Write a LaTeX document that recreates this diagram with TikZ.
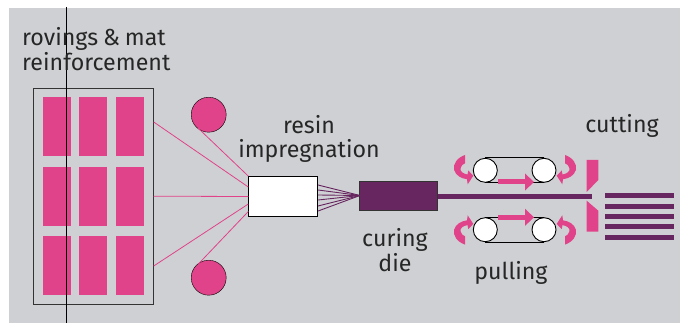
\documentclass[tikz,border=0pt]{standalone}
\usepackage{fontspec}
\setmainfont[WordSpace=0.8]{Fira Sans}
\usetikzlibrary{arrows.meta, positioning}
\definecolor{bgrey}{HTML}{CFD0D3}
\definecolor{rose}{HTML}{E0438A}
\definecolor{plum}{HTML}{67265F}
\tikzset{
	label/.style={font=\fontsize{23.2}{24.5}\selectfont, text=black!85, align=center, inner sep=0pt},
	sheet/.style={fill=rose, minimum width=28pt, minimum height=59pt, inner sep=0pt},
	bobbin/.style={circle, draw=black, fill=rose, minimum size=35pt, inner sep=0pt},
	roller/.style={circle, draw=black, fill=white, line width=0.9pt, minimum size=24pt, inner sep=0pt},
	fibre/.style={rose, line width=0.8pt},
	wet/.style={plum, line width=0.9pt},
	strip/.style={fill=plum},
	push/.style={-{Triangle[length=9pt,width=16.5pt]}, rose, line width=5pt},
	crescent/.pic={
		\fill[rose] (-50,-44.8) .. controls (-58,-42) and (-62,-36) .. (-61,-30)
			.. controls (-59,-24) and (-54,-21.5) .. (-48,-20.5)
			-- (-47.3,-15.5) -- (-41.7,-24.1) -- (-46.7,-29.3) -- (-47.5,-25.3)
			.. controls (-52,-26) and (-55,-28.5) .. (-54.5,-31.3)
			.. controls (-54,-34) and (-52,-36) .. (-50,-36.5) -- cycle;
	}
}
\begin{document}
\begin{tikzpicture}[x=1pt,y=-1pt]
	\useasboundingbox (0,0) rectangle (680,323);
	\fill[bgrey] (9,8) rectangle (680,323);

	% creel
	\node[draw=black!80, minimum width=120pt, minimum height=216pt, inner sep=0pt, line width=0.8pt] (creel) at (93.3,196.2) {};
	\foreach \row/\py in {a/126.3,b/196.3,c/265.3}
	{
		\foreach \col/\px in {1/57,2/93,3/130}
		{
			\node[sheet] (\row\col) at (\px,\py) {};
		}
	}
	\node[bobbin] (top) at (208.7,114.7) {};
	\node[bobbin] (bot) at (208.7,277.7) {};
	\draw[black, line width=0.8pt] (66.3,7) -- (66.3,323);

	% impregnation and die
	\node[draw=black, fill=white, minimum width=69pt, minimum height=40pt, inner sep=0pt, line width=0.8pt] (bath) at (283.2,196.5) {};
	\node[draw=black!80, fill=plum, minimum width=78pt, minimum height=29pt, inner sep=0pt, line width=0.8pt] (die) at (398.5,196.3) {};
	\coordinate (inlet) at (360,195.5);

	\draw[fibre] (creel.east |- 0,122) -- (bath.west |- 0,187);
	\draw[fibre] (creel.east) -- (bath.west);
	\draw[fibre] (creel.east |- 0,266) -- (bath.west |- 0,204);
	\draw[fibre] (top.south west) ++(2,1) -- (bath.north west);
	\draw[fibre] (bot.north west) ++(2,-1) -- (bath.west |- 0,211.5);
	\foreach \py in {185,190,195,200,206,211}
	{
		\draw[wet] (bath.east |- 0,\py) -- (inlet);
	}

	% product line
	\coordinate (end) at (592,196.3);
	\draw[plum, line width=5pt] (die.east) -- (end);

	% pullers
	\node[roller] (ul) at (485.3,170.3) {};
	\node[roller] (ur) at (544,170.3) {};
	\node[roller] (ll) at (485.3,229.7) {};
	\node[roller] (lr) at (544,229.7) {};
	\draw[black, line width=0.8pt] (ul.north) -- (ur.north) (ul.south) -- (ur.south);
	\draw[black, line width=0.8pt] (ll.north) -- (lr.north) (ll.south) -- (lr.south);
	\coordinate (ua) at (498.3,182);
	\coordinate (ub) at (534,182);
	\coordinate (la) at (498.3,217.3);
	\coordinate (lb) at (534,217.3);
	\draw[push] (ua) -- (ub);
	\draw[push] (la) -- (lb);
	\pic at (515,199.8) {crescent};
	\pic[xscale=-1,yscale=-1] at (515,199.8) {crescent};
	\pic[yscale=-1] at (515,199.8) {crescent};
	\pic[xscale=-1] at (515,199.8) {crescent};

	% cutter
	\fill[rose] (586.7,160) -- (598.3,160) -- (598.3,180) -- (586.7,192) -- cycle;
	\fill[rose] (586.7,200.7) -- (598.3,210.7) -- (598.3,231.7) -- (586.7,231.7) -- cycle;
	\foreach \py in {195.3,206.3,216.3,226.3,237.3}
	{
		\fill[strip] (605,\py-2.5) rectangle (674,\py+2.5);
	}

	% labels
	\node[label, align=left, anchor=west] (lroving) at (22,49) {rovings \& mat\\reinforcement};
	\node[label] (lresin) at (309,139) {resin\\impregnation};
	\node[label] (lcuring) at (395,250) {curing\\die};
	\node[label] (lpulling) at (511,273) {pulling};
	\node[label] (lcutting) at (622,126) {cutting};
\end{tikzpicture}
\end{document}
